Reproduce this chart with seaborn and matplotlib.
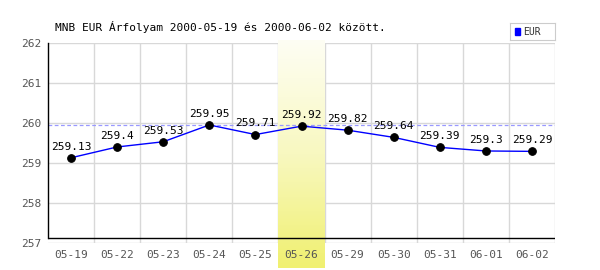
import numpy as np
import pandas as pd
import matplotlib
matplotlib.use("Agg")
import matplotlib.pyplot as plt
import seaborn as sns
from matplotlib.colors import LinearSegmentedColormap
from matplotlib.patches import Rectangle

dates = ["05-19", "05-22", "05-23", "05-24", "05-25", "05-26", "05-29", "05-30", "05-31", "06-01", "06-02"]
rates = [259.13, 259.4, 259.53, 259.95, 259.71, 259.92, 259.82, 259.64, 259.39, 259.3, 259.29]
labels = ["259.13", "259.4", "259.53", "259.95", "259.71", "259.92", "259.82", "259.64", "259.39", "259.3", "259.29"]
highlight = "05-26"
title = "MNB EUR Árfolyam 2000-05-19 és 2000-06-02 között."

sns.set_theme(style="white")
plt.rcParams['font.family'] = ['DejaVu Sans Mono', 'DejaVu Sans']

df = pd.DataFrame({"date": dates, "rate": rates})

fig = plt.figure(figsize=(6, 2.7), dpi=100)
ax = fig.add_axes([0.08, 0.10, 0.845, 0.741])
ax.set_axisbelow(False)

# grid
for y in range(257, 263):
    ax.axhline(y, color="#d8d8d8", lw=1, zorder=1)
for x in np.arange(0.5, len(dates), 1.0):
    ax.axvline(x, color="#d8d8d8", lw=1, zorder=1)

# highlight band with gradient (drawn over the grid)
hi = dates.index(highlight)
grad = np.linspace(0, 1, 256).reshape(-1, 1)
cmap = LinearSegmentedColormap.from_list("hl", ["#fefef4", "#f8f8c0", "#f0f070"])
ax.imshow(grad, aspect="auto", cmap=cmap, origin="upper",
          extent=(hi - 0.5, hi + 0.5, 256.37, 262.05), clip_on=False, zorder=1.5)

# max dashed line
ax.axhline(max(rates), color="#9999ff", lw=0.9, ls=(0, (3, 2)), zorder=2)

sns.lineplot(data=df, x="date", y="rate", ax=ax, color="#0000ff", lw=1,
             marker="o", markersize=5.5, markerfacecolor="black",
             markeredgecolor="black", zorder=3, sort=False)

for i, (v, lab) in enumerate(zip(rates, labels)):
    ax.annotate(lab, (i, v), xytext=(0, 4.5), textcoords="offset points",
                ha="center", va="bottom", fontsize=8, color="black", zorder=4)

ax.set_xlim(-0.5, len(dates) - 0.5)
ax.set_ylim(257, 262)
ax.set_xlabel("")
ax.set_ylabel("")
ax.set_yticks(range(257, 263))
ax.set_yticklabels([str(y) for y in range(257, 263)])
ax.tick_params(axis="both", length=0, labelsize=8, labelcolor="#555555")
ax.tick_params(axis="x", pad=5)
ax.tick_params(axis="y", pad=5)

for s in ["top", "right", "bottom"]:
    ax.spines[s].set_visible(False)
ax.spines["left"].set_color("black")
ax.spines["left"].set_linewidth(1)
ax.spines["left"].set_bounds(257.12, 262)
ax.spines["left"].set_zorder(5)
ax.axhline(257.12, color="black", lw=1, zorder=5)

fig.text(0.092, 0.9, title, fontsize=8, color="black", va="center", ha="left")

# legend
leg = fig.add_axes([0.85, 0.853, 0.075, 0.06])
leg.set_xlim(0, 1); leg.set_ylim(0, 1)
leg.set_xticks([]); leg.set_yticks([])
for s in leg.spines.values():
    s.set_color("#cccccc"); s.set_linewidth(0.8)
leg.add_patch(Rectangle((0.1, 0.3), 0.13, 0.4, color="#0000ff"))
leg.text(0.3, 0.5, "EUR", fontsize=7, va="center", ha="left", color="#333333")

fig.savefig("out.png", dpi=100)
